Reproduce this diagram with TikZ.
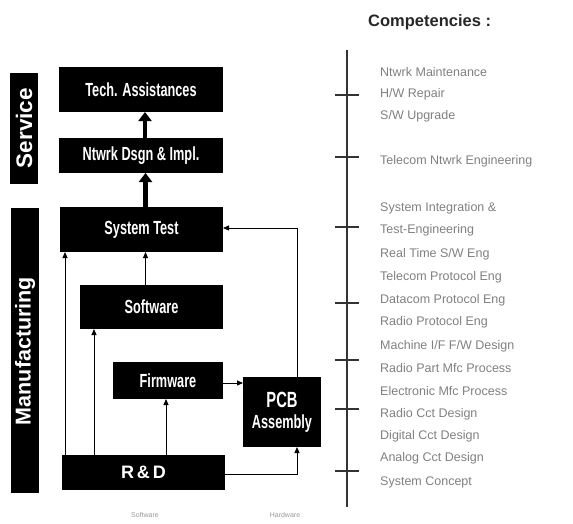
\documentclass[tikz,border=0pt]{standalone}
\usepackage{fontspec}
\usepackage{graphicx}
\setmainfont{Liberation Sans}
\usetikzlibrary{arrows.meta}
\newcommand\cnd[1]{\scalebox{0.67}[1]{#1}}
\tikzset{
  blk/.style={fill=black, draw=none, inner sep=0pt, outer sep=0pt, text=white,
    font=\fontsize{19}{20}\selectfont\bfseries, align=center},
  sidebar/.style={fill=black, draw=none, inner sep=0pt, outer sep=0pt, text=white,
    font=\fontsize{21}{23}\selectfont\bfseries},
  thickarr/.style={line width=4.5pt, -{Triangle[width=13pt,length=9pt]}},
  thinarr/.style={line width=0.9pt, -{Triangle[width=5pt,length=6pt]}},
  comp/.style={anchor=west, inner sep=0pt, text=black!50, font=\fontsize{12.5}{13}\selectfont},
  tick/.style={line width=1.1pt, draw=black!80},
  foot/.style={text=black!40, font=\fontsize{7}{8}\selectfont}
}
\begin{document}
\begin{tikzpicture}[x=1pt,y=-1pt]
\useasboundingbox (0,0) rectangle (573,523);
% side bars
\node[sidebar, minimum width=28pt, minimum height=111pt] (service) at (24,128) {};
\node[text=white, rotate=90, font=\fontsize{22.5}{23}\selectfont\bfseries] (servicet) at (service.center) {Service};
\node[sidebar, minimum width=28pt, minimum height=285pt] (manuf) at (25,350.5) {};
\node[text=white, rotate=90, font=\fontsize{21.5}{23}\selectfont\bfseries] (manuft) at (25,351) {Manufacturing};
% boxes
\node[blk, minimum width=164pt, minimum height=45pt] (tech) at (141,89.5) {\cnd{Tech. Assistances}};
\node[blk, minimum width=164pt, minimum height=35pt] (ntwrk) at (141,155.5) {\cnd{Ntwrk Dsgn \& Impl.}};
\node[blk, minimum width=163pt, minimum height=45pt] (systest) at (141.5,229.5) {\cnd{System Test}};
\node[blk, minimum width=143pt, minimum height=44pt] (software) at (151.5,307) {\cnd{Software}};
\node[blk, minimum width=110pt, minimum height=37pt] (firmware) at (168,380.5) {\cnd{Firmware}};
\node[blk, minimum width=78pt, minimum height=70pt] (pcb) at (282,412) {\cnd{\fontsize{22}{22}\selectfont PCB}\\[1pt]\cnd{Assembly}};
\node[blk, minimum width=163pt, minimum height=35pt, font=\fontsize{18}{20}\selectfont\bfseries] (rd) at (143.5,472.5) {R\,\&\,D};
% thick arrows
\draw[thickarr] ([xshift=4pt]ntwrk.north) -- ([xshift=4pt]ntwrk.north |- tech.south);
\draw[thickarr] ([xshift=4pt]systest.north) -- ([xshift=4pt]systest.north |- ntwrk.south);
% thin arrows
\draw[thinarr] ([xshift=-6pt]software.north) -- ([xshift=-6pt]software.north |- systest.south);
\draw[thinarr] ([xshift=3pt]rd.north west) -- ([xshift=3pt]rd.north west |- systest.south);
\draw[thinarr] ([xshift=32pt]rd.north west) -- ([xshift=32pt]rd.north west |- software.south);
\draw[thinarr] ([xshift=-2pt]firmware.south |- rd.north) -- ([xshift=-2pt]firmware.south);
\draw[thinarr] ([yshift=-2.5pt]firmware.east) -- ([yshift=-2.5pt]firmware.east -| pcb.west);
\draw[thinarr] ([yshift=-1.5pt]rd.east) -| ([xshift=15pt]pcb.south);
\draw[thinarr] ([xshift=15pt]pcb.north) |- ([yshift=1.5pt]systest.east);
% competencies
\node[anchor=west, inner sep=0pt, text=black!85, font=\fontsize{16.5}{18}\selectfont\bfseries] (comptitle) at (368,22) {Competencies :};
\coordinate (ltop) at (347,50);
\coordinate (lbot) at (347,507);
\draw[tick] (ltop) -- (lbot);
\foreach \y in {95,157,227,303,360,409,471}{
  \draw[tick] (335,\y) -- (359,\y);
}
\node[comp] (c1) at (380,72) {Ntwrk Maintenance};
\node[comp] (c2) at (380,94) {H/W Repair};
\node[comp] (c3) at (380,116) {S/W Upgrade};
\node[comp] (c4) at (380,161) {Telecom Ntwrk Engineering};
\node[comp] (c5) at (380,208) {System Integration \&};
\node[comp] (c6) at (380,230) {Test-Engineering};
\node[comp] (c7) at (380,254) {Real Time S/W Eng};
\node[comp] (c8) at (380,277) {Telecom Protocol Eng};
\node[comp] (c9) at (380,300) {Datacom Protocol Eng};
\node[comp] (c10) at (380,322) {Radio Protocol Eng};
\node[comp] (c11) at (380,346) {Machine I/F F/W Design};
\node[comp] (c12) at (380,368) {Radio Part Mfc Process};
\node[comp] (c13) at (380,391) {Electronic Mfc Process};
\node[comp] (c14) at (380,414) {Radio Cct Design};
\node[comp] (c15) at (380,436) {Digital Cct Design};
\node[comp] (c16) at (380,458) {Analog Cct Design};
\node[comp] (c17) at (380,482) {System Concept};
% footer
\node[foot] (fs) at (145,515) {Software};
\node[foot] (fh) at (285,515) {Hardware};
\end{tikzpicture}
\end{document}
